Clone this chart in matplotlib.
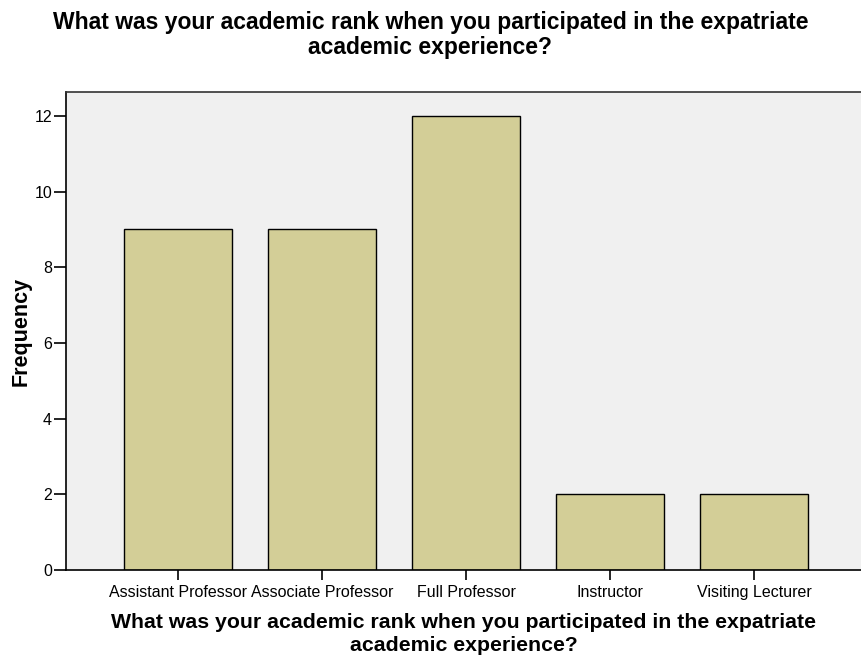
import matplotlib.pyplot as plt

# academic rank frequencies
ranks = ["Assistant Professor", "Associate Professor", "Full Professor",
         "Instructor", "Visiting Lecturer"]
counts = [9, 9, 12, 2, 2]
yticks = [0, 2, 4, 6, 8, 10, 12]

title = ("What was your academic rank when you participated in the expatriate\n"
         "academic experience?")

plt.rcParams['font.family'] = ['Liberation Sans', 'DejaVu Sans']

fig = plt.figure(figsize=(8.61, 6.58), dpi=100)
ax = fig.add_axes([66/861, 88/658, 1 - 66/861, (570-92)/658])
ax.set_facecolor("#F0F0F0")

x = range(len(ranks))
ax.bar(x, counts, width=0.75, color="#D3CE97", edgecolor="black", linewidth=1.0, zorder=2)

ax.set_xlim(-0.778, 4.74)
ax.set_ylim(0, 12.63)
ax.set_xticks(list(x))
ax.set_xticklabels(ranks, fontsize=11.5)
ax.set_yticks(yticks)
ax.tick_params(axis='y', labelsize=11.5, length=9, width=1.2, direction='out', pad=1)
ax.tick_params(axis='x', length=7, width=1.2, direction='out', pad=4)

for s in ["left", "bottom", "top"]:
    ax.spines[s].set_linewidth(1.2)
ax.spines["top"].set_color("#333333")
ax.spines["right"].set_visible(False)

# y label: the coordinate is the right edge of the rotated text
ax.set_ylabel("Frequency", fontsize=15.5, fontweight="bold")
ax.yaxis.set_label_coords(-34/795, 0.5)
ax.set_xlabel(title, fontsize=15.3, fontweight="bold", linespacing=1.28)
ax.xaxis.set_label_coords(0.5, -43/478)
ax.xaxis.label.set_va("top")
fig.text(0.5, 1 - 11/658, title, fontsize=16.5, fontweight="bold",
         ha="center", va="top", linespacing=1.1)

fig.savefig("out.png", dpi=100)
